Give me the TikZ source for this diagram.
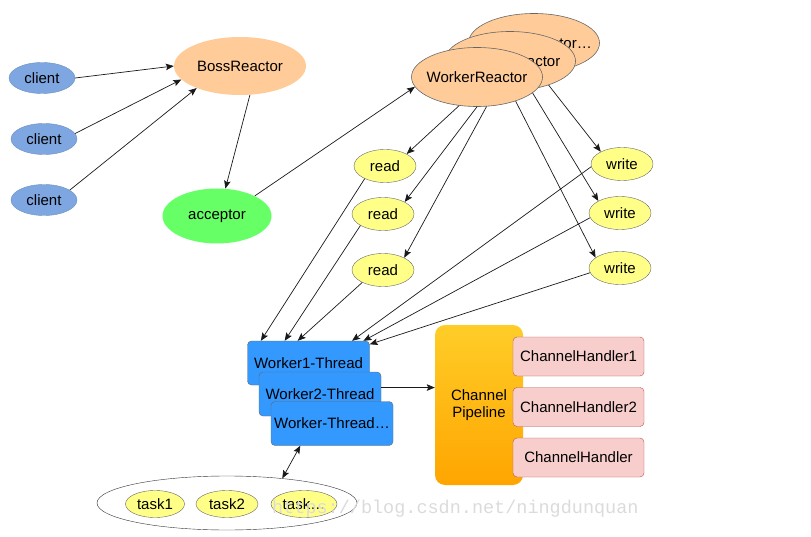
\documentclass[tikz,border=0pt]{standalone}
\usepackage{fontspec}
\setmainfont{Liberation Sans}
\newfontfamily\wmfont{Liberation Mono}
\usepackage{tikz}
\usetikzlibrary{shapes.geometric,arrows.meta}

\definecolor{cliblue}{HTML}{7EA6E0}
\definecolor{cliedge}{HTML}{6C8EBF}
\definecolor{peach}{HTML}{FFCC99}
\definecolor{accgreen}{HTML}{66FF66}
\definecolor{pale}{HTML}{FFFF88}
\definecolor{thrblue}{HTML}{3399FF}
\definecolor{pipetop}{HTML}{FFCD28}
\definecolor{pipebot}{HTML}{FFA500}
\definecolor{hdlfill}{HTML}{F8CECC}
\definecolor{hdledge}{HTML}{B85450}

\begin{document}
\begin{tikzpicture}[x=1pt, y=-1pt, inner sep=0pt, font=\fontsize{15}{17}\selectfont]
    \tikzstyle{cli}=[ellipse, fill=cliblue, draw=cliedge, minimum width=66pt, minimum height=31pt]
    \tikzstyle{boss}=[ellipse, fill=peach, minimum width=132pt, minimum height=58pt]
    \tikzstyle{acc}=[ellipse, fill=accgreen, minimum width=109pt, minimum height=55pt]
    \tikzstyle{reac}=[ellipse, fill=peach, draw=black!60, semithick, inner xsep=-12pt, minimum width=131pt, minimum height=59pt]
    \tikzstyle{rw}=[ellipse, fill=pale, draw=black!60, minimum width=62pt, minimum height=33pt]
    \tikzstyle{thr}=[rectangle, rounded corners=4pt, fill=thrblue, draw=black!60, minimum width=122pt, minimum height=44pt]
    \tikzstyle{pipe}=[rectangle, rounded corners=10pt, top color=pipetop, bottom color=pipebot, align=center, minimum width=88pt, minimum height=160pt]
    \tikzstyle{hdl}=[rectangle, rounded corners=4pt, fill=hdlfill, draw=hdledge, minimum width=131pt, minimum height=39pt]
    \tikzstyle{tsk}=[ellipse, fill=pale, draw=black!60, minimum height=27pt]
    \tikzstyle{A}=[->, >={Stealth[length=8pt, width=6.5pt, inset=1.5pt]}, draw=black!90, line width=0.7pt]

    \useasboundingbox (0,0) rectangle (811,537);

    % clients and boss
    \node[cli] (C1) at (42,78) {client};
    \node[cli] (C2) at (44,139) {client};
    \node[cli] (C3) at (44,200) {client};
    \node[boss] (Boss) at (240,66) {BossReactor};
    \node[acc] (Acc) at (217,216) {acceptor};

    % worker reactors, back to front
    \node[reac] (WR3) at (534,43) {WorkerReactor…};
    \node[reac] (WR2) at (510,61) {WorkerReactor};
    \node[reac] (WR1) at (477,77) {WorkerReactor};

    \node[rw] (RD1) at (385,166) {read};
    \node[rw] (RD2) at (383,214) {read};
    \node[rw] (RD3) at (383,270) {read};
    \node[rw] (WT1) at (622,164) {write};
    \node[rw] (WT2) at (620,213) {write};
    \node[rw] (WT3) at (620,268) {write};

    % worker threads
    \node[thr] (W1) at (308.5,363) {Worker1-Thread};
    \node[thr] (W2) at (320,394) {Worker2-Thread};
    \node[thr] (W3) at (332,423.5) {Worker-Thread…};

    % pipeline and handlers
    \node[pipe] (CP) at (479,405) {Channel\\Pipeline};
    \node[hdl] (CH1) at (578.5,356.5) {ChannelHandler1};
    \node[hdl] (CH2) at (578.5,407) {ChannelHandler2};
    \node[hdl] (CH3) at (578.5,457.5) {ChannelHandler};

    % tasks
    \node[ellipse, fill=white, draw=black!80, minimum width=260pt, minimum height=54pt] (TQ) at (227,503) {};
    \node[tsk, minimum width=59pt] (T1) at (155,504) {task1};
    \node[tsk, minimum width=62pt] (T2) at (227,504) {task2};
    \node[tsk, minimum width=66pt] (T3) at (304,504) {task…};

    \draw[A] (C1.east) to (Boss.180);
    \draw[A] (C2.10) to (Boss.193);
    \draw[A] (C3.21) to (Boss.207);
    \draw[A] (Boss.289) to (Acc.73);
    \draw[A] (Acc.28) to (WR1.189);

    \draw[A] (WR1.238) to (RD1.29);
    \draw[A] (WR1.270) to (RD2.29);
    \draw[A] (WR1.288) to (RD3.30);
    \draw[A] (WR2.328) to (WT1.150);
    \draw[A] (WR1.344) to (WT2.151);
    \draw[A] (WR1.328) to (WT3.157);

    \draw[A] (RD1.212) to (W1.155);
    \draw[A] (RD2.207) to (W1.137);
    \draw[A] (RD3.211) to (W1.116);
    \draw[A] (WT1.185) to (W1.27);
    \draw[A] (WT2.189) to (W1.22);
    \draw[A] (WT3.189) to (W1.17);

    \draw[A] (W2.6) to (W2.6 -| CP.west);
    \draw[A, <->] (W3.215) to (TQ.24);

    \node[anchor=west, text=black!14, font=\wmfont\fontsize{18.5}{20}\selectfont] (WM) at (272,509) {https://blog.csdn.net/ningdunquan};
\end{tikzpicture}
\end{document}
